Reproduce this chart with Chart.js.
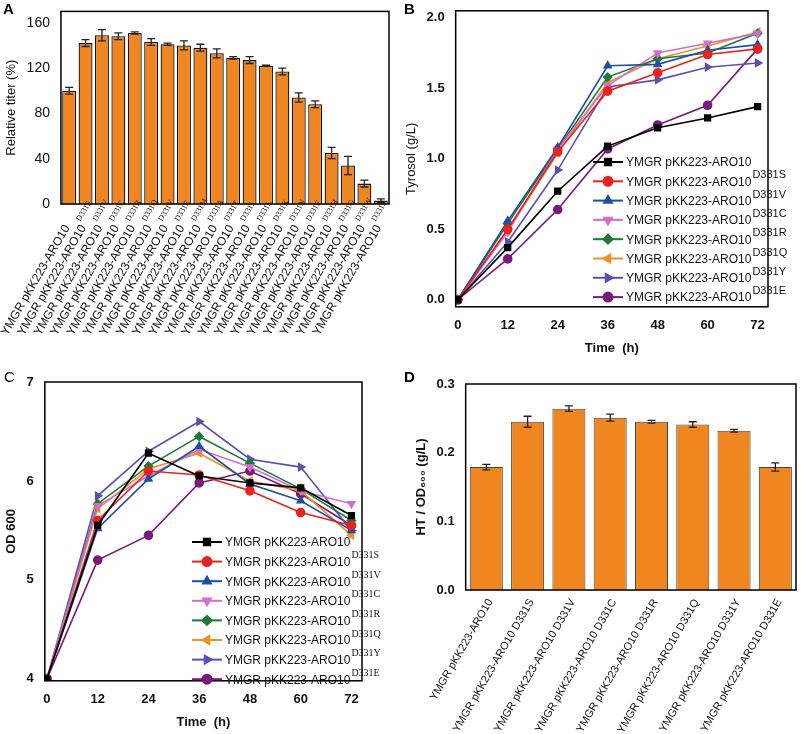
<!DOCTYPE html>
<html>
<head>
<meta charset="utf-8">
<script src="https://cdn.jsdelivr.net/npm/chart.js@4"></script>
<style>
body { margin: 0; background: #fff; width: 802px; height: 734px; position: relative; font-family: "Liberation Sans", Arial, sans-serif; }
.painel { position: absolute; }
.letra { position: absolute; font-size: 15px; font-weight: bold; }
</style>
</head>
<body>
<div class="painel" style="left:0;top:0;width:400px;height:360px"><canvas id="graficoA"></canvas></div>
<div class="painel" style="left:400px;top:0;width:402px;height:360px"><canvas id="graficoB"></canvas></div>
<div class="painel" style="left:0;top:370px;width:400px;height:364px"><canvas id="graficoC"></canvas></div>
<div class="painel" style="left:400px;top:370px;width:402px;height:364px"><canvas id="graficoD"></canvas></div>
<div class="letra" style="left:3px;top:0px">A</div>
<div class="letra" style="left:404px;top:0px">B</div>
<div class="letra" style="left:4px;top:368px;font-weight:normal">C</div>
<div class="letra" style="left:404px;top:368px">D</div>
<script>
// dados painel A
const mutacoesA = ["", "D331S", "D331V", "D331C", "D331R", "D331Q", "D331Y", "D331E", "D331M", "D331A",
  "D331T", "D331I", "D331L", "D331K", "D331N", "D331F", "D331H", "D331G", "D331W", "D331P"];
const tituloA = [100, 142, 149, 148, 151, 143, 141, 140, 138, 133, 129, 127, 122, 117, 94, 88, 45, 34, 18, 3];
const erroA = [3, 3, 5, 3, 1, 3, 1, 4, 3, 4, 1, 3, 0.5, 3, 4, 3, 5, 8, 3, 1.5];
const ticksA = [0, 40, 80, 120, 160];

// dados paineis B e C
const tempos = [0, 12, 24, 36, 48, 60, 72];
const cepas = ["", "D331S", "D331V", "D331C", "D331R", "D331Q", "D331Y", "D331E"];
const cores = ["#000000", "#e8231e", "#1f4ea3", "#d070c8", "#1e7a3a", "#f0902a", "#5b4fb0", "#7a1a7a"];
const marcadores = ["rect", "circle", "triangle", "triangle", "rectRot", "triangle", "triangle", "circle"];
const rotacoes = [0, 0, 0, 180, 0, -90, 90, 0];

const tirosol = [
  [0, 0.37, 0.77, 1.09, 1.22, 1.29, 1.37],
  [0, 0.50, 1.05, 1.48, 1.61, 1.74, 1.78],
  [0, 0.56, 1.08, 1.66, 1.67, 1.77, 1.81],
  [0, 0.48, 1.07, 1.52, 1.75, 1.82, 1.89],
  [0, 0.54, 1.07, 1.58, 1.71, 1.75, 1.89],
  [0, 0.49, 1.04, 1.54, 1.71, 1.80, 1.90],
  [0, 0.41, 0.92, 1.51, 1.56, 1.65, 1.68],
  [0, 0.29, 0.64, 1.07, 1.24, 1.38, 1.78]
];
const ticksB = [0, 0.5, 1.0, 1.5, 2.0];
const od600 = [
  [4, 5.55, 6.28, 6.05, 5.98, 5.93, 5.65],
  [4, 5.60, 6.10, 6.06, 5.90, 5.68, 5.55],
  [4, 5.52, 6.02, 6.35, 5.97, 5.80, 5.50],
  [4, 5.75, 6.05, 6.32, 6.14, 5.90, 5.77],
  [4, 5.77, 6.15, 6.45, 6.18, 5.92, 5.60],
  [4, 5.72, 6.12, 6.28, 6.00, 5.90, 5.45],
  [4, 5.85, 6.30, 6.60, 6.22, 6.14, 5.50],
  [4, 5.20, 5.45, 5.98, 6.10, 5.87, 5.55]
];
const ticksC = [4, 5, 6, 7];

// dados painel D
const razaoD = [0.179, 0.245, 0.264, 0.251, 0.245, 0.241, 0.232, 0.179];
const erroD = [0.004, 0.008, 0.004, 0.005, 0.002, 0.004, 0.002, 0.006];
const ticksD = [0, 0.1, 0.2, 0.3];

const laranja = "#f0861f";
const fonte = "Liberation Sans";

// caixa em volta da area do grafico
const pluginCaixa = {
  id: "caixa",
  afterDraw(chart) {
    const a = chart.chartArea, ctx = chart.ctx;
    ctx.save();
    ctx.strokeStyle = "#000";
    ctx.lineWidth = 1.5;
    ctx.strokeRect(a.left, a.top, a.right - a.left, a.bottom - a.top);
    ctx.restore();
  }
};

// barras de erro
const pluginErro = {
  id: "erro",
  afterDatasetsDraw(chart) {
    const ctx = chart.ctx;
    chart.data.datasets.forEach(function (ds, i) {
      if (!ds.erros) return;
      const meta = chart.getDatasetMeta(i);
      const y = chart.scales.y;
      ctx.save();
      ctx.strokeStyle = "#222";
      ctx.lineWidth = 1.3;
      meta.data.forEach(function (el, j) {
        const v = ds.data[j], e = ds.erros[j];
        const y1 = y.getPixelForValue(v - e), y2 = y.getPixelForValue(v + e);
        ctx.beginPath();
        ctx.moveTo(el.x, y1); ctx.lineTo(el.x, y2);
        ctx.moveTo(el.x - 4, y1); ctx.lineTo(el.x + 4, y1);
        ctx.moveTo(el.x - 4, y2); ctx.lineTo(el.x + 4, y2);
        ctx.stroke();
      });
      ctx.restore();
    });
  }
};

// rotulos inclinados com sobrescrito
function pluginRotulos(sufixos, sobrescrito, tam) {
  return {
    id: "rotulos",
    afterDraw(chart) {
      const ctx = chart.ctx, x = chart.scales.x, base = chart.chartArea.bottom;
      ctx.save();
      ctx.fillStyle = "#111";
      sufixos.forEach(function (suf, i) {
        const px = x.getPixelForValue(i);
        ctx.save();
        ctx.textAlign = "right";
        ctx.textBaseline = "middle";
        ctx.font = tam + "px " + fonte;
        if (sobrescrito) {
          ctx.translate(px - 2, base + 22);
          ctx.rotate(-Math.PI / 3);
          ctx.fillText("YMGR pKK223-ARO10", 0, 0);
          ctx.textAlign = "left";
          ctx.font = "8px Liberation Serif";
          ctx.fillText(suf, 2, -7);
        } else {
          ctx.translate(px + 4, base + 10);
          ctx.rotate(-Math.PI / 3);
          ctx.fillText("YMGR pKK223-ARO10" + (suf ? " " + suf : ""), 0, 0);
        }
        ctx.restore();
      });
      ctx.restore();
    }
  };
}

// legenda desenhada dentro do grafico
function pluginLegenda(x0, y0, passo, fonteSup) {
  return {
    id: "legenda",
    afterDraw(chart) {
      const ctx = chart.ctx;
      ctx.save();
      chart.data.datasets.forEach(function (ds, i) {
        const y = y0 + i * passo;
        ctx.strokeStyle = ds.borderColor;
        ctx.lineWidth = 2;
        ctx.beginPath(); ctx.moveTo(x0, y); ctx.lineTo(x0 + 30, y); ctx.stroke();
        ctx.fillStyle = ds.borderColor;
        Chart.helpers.drawPoint(ctx, { pointStyle: ds.pointStyle, radius: 4.5, rotation: ds.rotation, borderWidth: 1 }, x0 + 15, y);
        ctx.fillStyle = "#111";
        ctx.textBaseline = "middle";
        ctx.textAlign = "left";
        ctx.font = "12px " + fonte;
        const t = "YMGR pKK223-ARO10";
        ctx.fillText(t, x0 + 33, y + 1);
        const w = ctx.measureText(t).width;
        ctx.font = fonteSup;
        ctx.fillText(cepas[i], x0 + 34 + w, y - 6);
      });
      ctx.restore();
    }
  };
}

function eixoTexto(texto, tam, negrito) {
  return { display: true, text: texto, color: "#111", font: { family: fonte, size: tam, weight: negrito ? "bold" : "normal" } };
}

function fixarTicks(valores) {
  return function (scale) { scale.ticks = valores.map(v => ({ value: v })); };
}

// painel A
new Chart(document.getElementById("graficoA"), {
  type: "bar",
  data: {
    labels: mutacoesA,
    datasets: [{ data: tituloA, erros: erroA, backgroundColor: laranja, borderColor: "#111", borderWidth: 1.3, categoryPercentage: 0.85, barPercentage: 1 }]
  },
  options: {
    responsive: true, maintainAspectRatio: false, animation: false,
    layout: { padding: { top: 8, right: 11, bottom: 148 } },
    plugins: { legend: { display: false }, tooltip: { enabled: false } },
    scales: {
      x: { ticks: { display: false }, grid: { display: false } },
      y: {
        min: 0, max: 170, grid: { display: false },
        afterBuildTicks: fixarTicks(ticksA),
        ticks: { color: "#111", font: { family: fonte, size: 14 } },
        title: eixoTexto("Relative titer (%)", 13, false)
      }
    }
  },
  plugins: [pluginCaixa, pluginErro, pluginRotulos(mutacoesA, true, 12)]
});

function conjuntos(series) {
  return series.map(function (s, i) {
    return {
      label: cepas[i], data: tempos.map((t, j) => ({ x: t, y: s[j] })), borderColor: cores[i], backgroundColor: cores[i],
      pointStyle: marcadores[i], rotation: rotacoes[i], pointRadius: 4, borderWidth: 1.6, tension: 0
    };
  });
}

function opcoesLinha(ymin, ymax, valoresY, rotY, negritoY, padding, casas) {
  return {
    responsive: true, maintainAspectRatio: false, animation: false,
    layout: { padding: padding },
    plugins: { legend: { display: false }, tooltip: { enabled: false } },
    scales: {
      x: {
        type: "linear", min: -0.5, max: 74.5, grid: { display: false },
        afterBuildTicks: fixarTicks(tempos),
        ticks: { color: "#111", font: { family: fonte, size: 13, weight: "bold" } },
        title: eixoTexto("Time  (h)", 13, true)
      },
      y: {
        min: ymin, max: ymax, grid: { display: false },
        afterBuildTicks: fixarTicks(valoresY),
        ticks: { color: "#111", font: { family: fonte, size: 13, weight: "bold" }, callback: v => v.toFixed(casas) },
        title: eixoTexto(rotY, 13, negritoY)
      }
    }
  };
}

// painel B
new Chart(document.getElementById("graficoB"), {
  type: "line",
  data: { datasets: conjuntos(tirosol) },
  options: opcoesLinha(-0.05, 2.05, ticksB, "Tyrosol (g/L)", false, { top: 4, right: 34 }, 1),
  plugins: [pluginCaixa, pluginLegenda(193, 162, 19.3, "11px " + fonte)]
});

// painel C
new Chart(document.getElementById("graficoC"), {
  type: "line",
  data: { datasets: conjuntos(od600) },
  options: opcoesLinha(3.98, 7, ticksC, "OD 600", true, { top: 12, right: 38 }, 0),
  plugins: [pluginCaixa, pluginLegenda(192, 172, 19.6, "10px Liberation Serif")]
});

// painel D
new Chart(document.getElementById("graficoD"), {
  type: "bar",
  data: {
    labels: cepas,
    datasets: [{ data: razaoD, erros: erroD, backgroundColor: laranja, borderColor: "#444", borderWidth: 1, categoryPercentage: 0.8, barPercentage: 1 }]
  },
  options: {
    responsive: true, maintainAspectRatio: false, animation: false,
    layout: { padding: { top: 14, right: 6, bottom: 136, left: 10 } },
    plugins: { legend: { display: false }, tooltip: { enabled: false } },
    scales: {
      x: { ticks: { display: false }, grid: { display: false } },
      y: {
        min: 0, max: 0.3, grid: { display: false },
        afterBuildTicks: fixarTicks(ticksD),
        ticks: { color: "#111", font: { family: fonte, size: 13, weight: "bold" }, callback: v => v.toFixed(1) },
        title: eixoTexto("HT / OD\u2086\u2080\u2080 (g/L)", 13, true)
      }
    }
  },
  plugins: [pluginCaixa, pluginErro, pluginRotulos(cepas, false, 11)]
});
</script>
</body>
</html>
